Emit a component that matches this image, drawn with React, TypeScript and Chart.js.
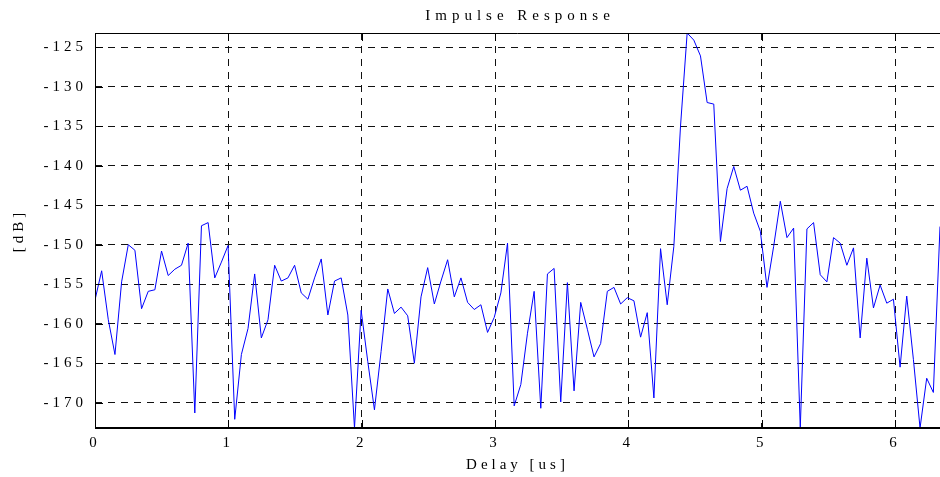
import React, { useEffect, useRef } from 'react';
import { Chart, registerables } from 'chart.js';

Chart.register(...registerables);

const TITLE = 'Impulse Response';
const X_TITLE = 'Delay [us]';
const Y_TITLE = '[dB]';

// sample period of the delay axis (us)
const SAMPLE_PERIOD_US = 0.0499;

// impulse response magnitude per sample (dB)
const impulseDb: number[] = [
  -157.0, -153.3, -159.5, -163.9, -154.7, -150.0, -150.7, -158.1, -155.9, -155.7,
  -150.8, -153.9, -153.1, -152.6, -149.8, -171.3, -147.6, -147.2, -154.2, -152.2,
  -150.1, -172.1, -163.9, -160.6, -153.7, -161.8, -159.5, -152.6, -154.6, -154.2,
  -152.6, -156.1, -156.9, -154.2, -151.8, -158.9, -154.6, -154.2, -158.9, -173.2,
  -158.3, -164.8, -170.9, -163.5, -155.6, -158.7, -157.9, -159.0, -165.0, -156.6,
  -152.9, -157.5, -154.6, -151.9, -156.6, -154.2, -157.3, -158.2, -157.6, -161.1,
  -159.2, -156.1, -149.8, -170.4, -167.7, -161.2, -155.9, -170.7, -153.7, -153.0,
  -169.9, -154.8, -168.5, -157.3, -160.7, -164.2, -162.5, -155.9, -155.4, -157.5,
  -156.7, -157.1, -161.7, -158.6, -169.4, -150.5, -157.6, -150.2, -135.0, -123.2,
  -124.1, -126.1, -132.0, -132.2, -149.6, -142.9, -140.1, -143.1, -142.6, -146.0,
  -148.3, -155.4, -150.2, -144.5, -149.1, -147.9, -173.2, -148.0, -147.2, -153.8,
  -154.7, -149.1, -149.8, -152.6, -150.4, -161.8, -151.7, -158.0, -155.1, -157.4,
  -156.9, -165.5, -156.5, -164.5, -173.2, -166.9, -168.7, -147.7,
];

const delayUs: number[] = impulseDb.map((_, i) => +(i * SAMPLE_PERIOD_US).toFixed(4));

const xTickValues = [0, 1, 2, 3, 4, 5, 6];
const yTickValues = [-170, -165, -160, -155, -150, -145, -140, -135, -130, -125];
const Y_MIN = -173.2;
const Y_MAX = -123.2;

const SERIF = '"Liberation Serif", "Times New Roman", serif';

const framePlugin = {
  id: 'matlabFrame',
  beforeDraw(chart: any) {
    chart.ctx.letterSpacing = '4px';
  },
  afterDraw(chart: any) {
    const ctx = chart.ctx;
    const { left, right, top, bottom } = chart.chartArea;
    const xs = chart.scales.x;
    const ys = chart.scales.y;
    ctx.save();
    // inward tick marks
    ctx.strokeStyle = '#000';
    ctx.lineWidth = 1;
    ctx.setLineDash([]);
    ctx.beginPath();
    xTickValues.forEach((v) => {
      const px = Math.round(xs.getPixelForValue(v)) + 0.5;
      ctx.moveTo(px, bottom);
      ctx.lineTo(px, bottom - 8);
      ctx.moveTo(px, top);
      ctx.lineTo(px, top + 8);
    });
    yTickValues.forEach((v) => {
      const py = Math.round(ys.getPixelForValue(v)) + 0.5;
      ctx.moveTo(left, py);
      ctx.lineTo(left + 8, py);
    });
    ctx.stroke();
    // frame
    ctx.beginPath();
    ctx.moveTo(Math.round(left) + 0.5, Math.round(bottom));
    ctx.lineTo(Math.round(left) + 0.5, Math.round(top) + 0.5);
    ctx.lineTo(right, Math.round(top) + 0.5);
    ctx.stroke();
    ctx.lineWidth = 2;
    ctx.beginPath();
    ctx.moveTo(left, Math.round(bottom));
    ctx.lineTo(right, Math.round(bottom));
    ctx.stroke();
    // main title
    ctx.letterSpacing = '5px';
    ctx.font = `15px ${SERIF}`;
    ctx.fillStyle = '#000';
    ctx.textAlign = 'center';
    ctx.textBaseline = 'alphabetic';
    ctx.fillText(TITLE, (left + right) / 2 + 2.5, 19.5);
    ctx.restore();
    ctx.letterSpacing = '0px';
  },
};

export default function App() {
  const canvasRef = useRef<HTMLCanvasElement | null>(null);

  useEffect(() => {
    const canvas = canvasRef.current;
    if (!canvas) return;
    const points = delayUs.map((x, i) => ({ x, y: impulseDb[i] }));
    const chart = new Chart(canvas, {
      type: 'line',
      data: {
        datasets: [
          {
            label: TITLE,
            data: points,
            borderColor: '#0000ff',
            borderWidth: 1,
            pointRadius: 0,
            tension: 0,
            fill: false,
          },
        ],
      },
      options: {
        responsive: false,
        animation: false,
        devicePixelRatio: 1,
        events: [],
        layout: { padding: { left: 0, right: 0, top: 33, bottom: 0 } },
        plugins: {
          legend: { display: false },
          tooltip: { enabled: false },
          title: { display: false },
        },
        scales: {
          x: {
            type: 'linear',
            min: 0,
            max: delayUs[delayUs.length - 1],
            afterBuildTicks: (s: any) => {
              s.ticks = xTickValues.map((v) => ({ value: v }));
            },
            afterFit: (s: any) => {
              s.height = 49;
            },
            grid: { color: '#111', lineWidth: 1, drawTicks: false },
            border: { display: false, dash: [7, 6] },
            ticks: {
              padding: 6,
              color: '#000',
              font: { family: SERIF, size: 15 },
              maxRotation: 0,
              autoSkip: false,
              callback: (v: any) => String(v),
            },
            title: {
              display: true,
              text: X_TITLE,
              color: '#000',
              font: { family: SERIF, size: 15 },
              padding: { top: 0, bottom: 3 },
            },
          },
          y: {
            type: 'linear',
            min: Y_MIN,
            max: Y_MAX,
            afterBuildTicks: (s: any) => {
              s.ticks = yTickValues.map((v) => ({ value: v }));
            },
            afterFit: (s: any) => {
              s.width = 95;
            },
            grid: { color: '#111', lineWidth: 1, drawTicks: false },
            border: { display: false, dash: [7, 6] },
            ticks: {
              padding: 8,
              color: '#000',
              font: { family: SERIF, size: 15 },
              autoSkip: false,
              callback: (v: any) => String(v),
            },
            title: {
              display: true,
              text: Y_TITLE,
              color: '#000',
              font: { family: SERIF, size: 15 },
              padding: { top: 10, bottom: 0 },
            },
          },
        },
      },
      plugins: [framePlugin],
    });
    return () => chart.destroy();
  }, []);

  return (
    <div style={{ position: 'absolute', left: 0, top: 0, width: 940, height: 477, background: '#fff' }}>
      <canvas ref={canvasRef} width={940} height={477} style={{ display: 'block' }} />
    </div>
  );
}
